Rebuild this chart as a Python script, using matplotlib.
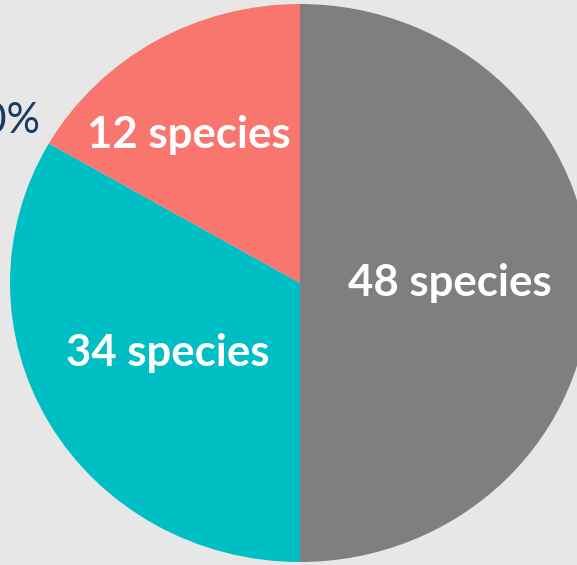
import matplotlib.pyplot as plt

# wedge shares as drawn (grey half, teal third, salmon sixth) and the species counts shown
groups = ["grey", "teal", "salmon"]
shares = [3, 2, 1]
species = [48, 34, 12]
colors = ["#7f7f7f", "#00bfc4", "#f8766d"]

# label centres in pie units (radius 1)
label_pos = [(0.515, 0.0), (-0.455, -0.25), (-0.385, 0.53)]

bg = "#e7e7e7"
fig = plt.figure(figsize=(5.77, 5.65), dpi=100, facecolor=bg)
ax = fig.add_axes([0, 0, 1, 1])
ax.set_facecolor(bg)

ax.pie(shares, colors=colors, startangle=90, counterclock=False,
       radius=1, center=(0, 0), frame=False,
       wedgeprops=dict(linewidth=0, antialiased=True))

for (x, y), n in zip(label_pos, species):
    ax.text(x, y, f"{n} species", color="white", fontsize=31.5,
            fontweight="bold", family="Lato", ha="center", va="center")

# pie spans ~290 px wide and ~279 px tall, centre at (300, 283) px
rx, ry = 290, 279
ax.set_aspect("auto")
ax.set_xlim(-300 / rx, (577 - 300) / rx)
ax.set_ylim(-(565 - 283) / ry, 283 / ry)

ax.text((41 - 300) / rx, (283 - 121) / ry, "100%", color="#1a3a66",
        fontsize=30, family="Lato", ha="right", va="center")

fig.savefig("out.png", dpi=100, facecolor=bg)
